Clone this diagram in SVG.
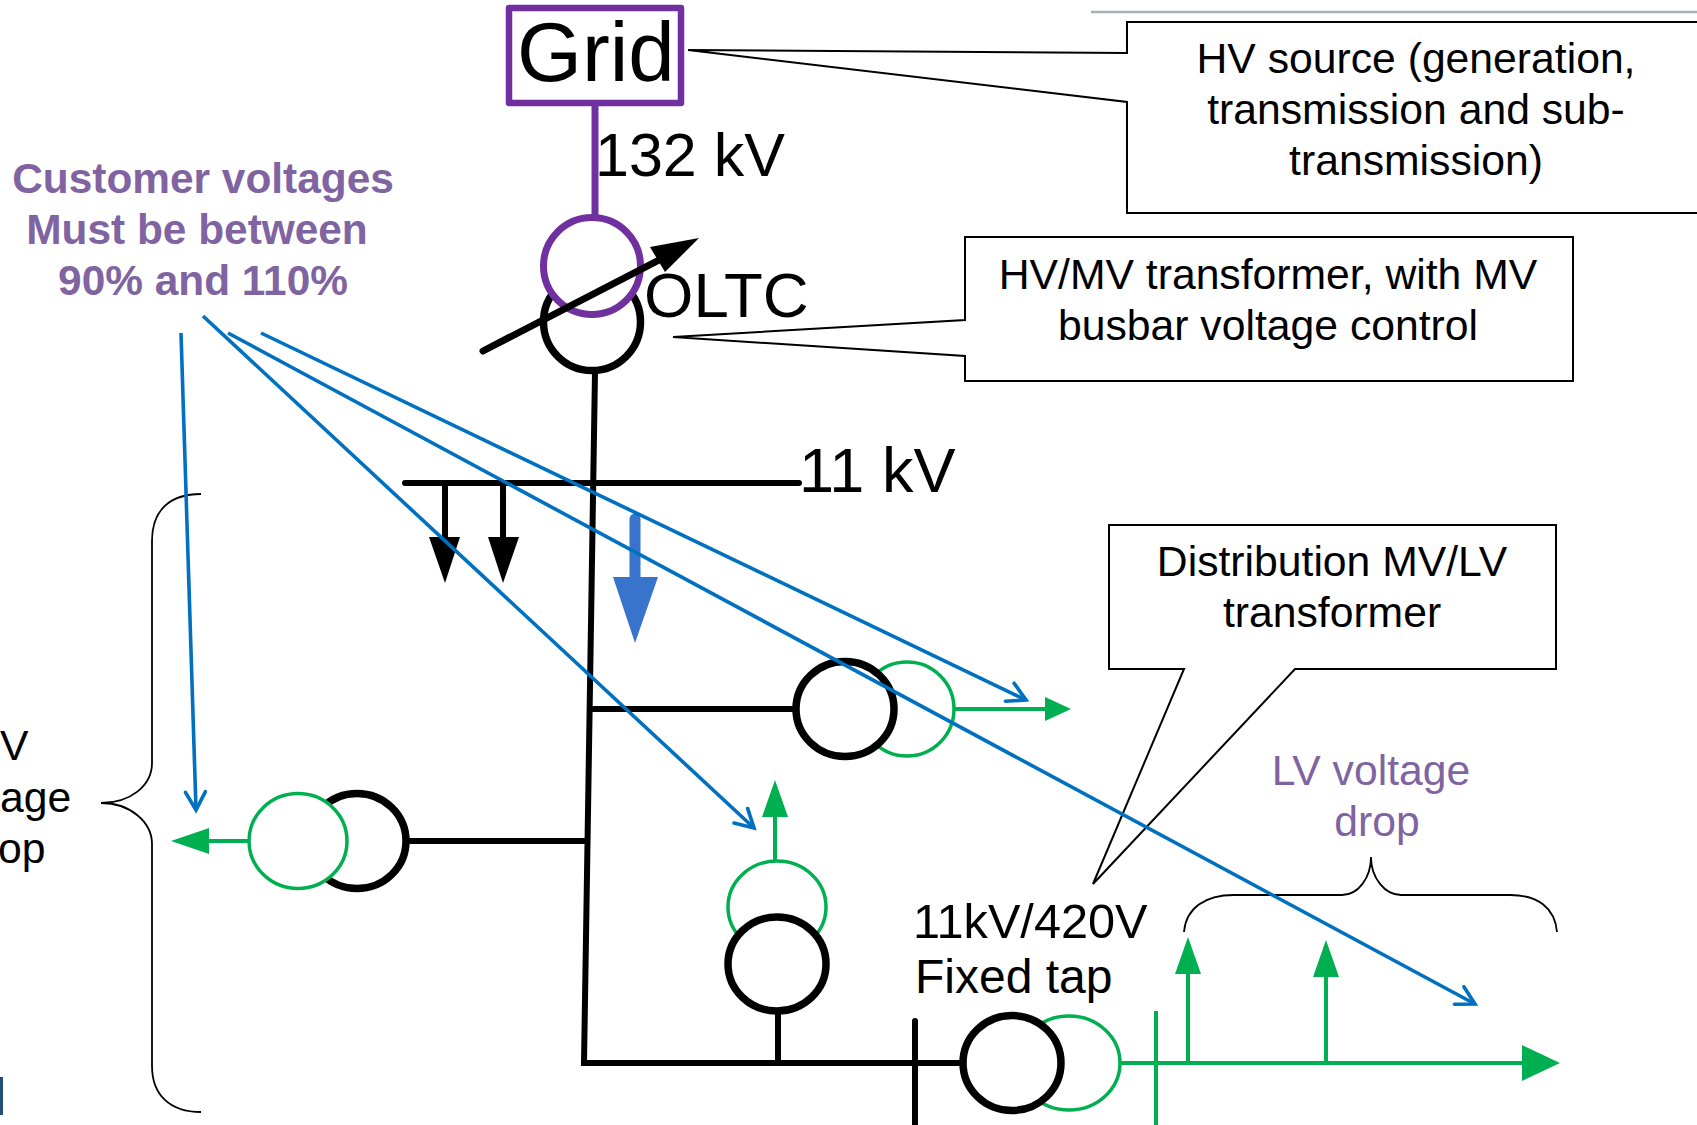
<svg xmlns="http://www.w3.org/2000/svg" width="1697" height="1125" viewBox="0 0 1697 1125">
<style>
text{font-family:"Liberation Sans",Arial,sans-serif;fill:#000}
.c{text-anchor:middle}
.t40{font-size:42.7px}
.p{fill:#8064A2}
.b{font-weight:700;font-size:42.4px}
.call{fill:#fff;stroke:#000;stroke-width:2}
.blk{fill:none;stroke:#000;stroke-width:6;stroke-linecap:round}
.grn{fill:none;stroke:#00B050;stroke-width:4}
.tb{fill:#fff;stroke:#000;stroke-width:7.5}
.tg{fill:#fff;stroke:#00B050;stroke-width:3.5}
.blue{fill:none;stroke:#0070C0;stroke-width:3.6;marker-end:url(#open)}
.brace{fill:none;stroke:#000;stroke-width:1.8}
.hg{fill:#00B050}
</style>
<defs>
<marker id="open" markerUnits="userSpaceOnUse" markerWidth="30" markerHeight="30" refX="22" refY="12" orient="auto"><path d="M4 2L22 12L4 22" fill="none" stroke="#0070C0" stroke-width="3.6" stroke-linecap="round"/></marker>
</defs>
<rect width="1697" height="1125" fill="#fff"/>
<path d="M1091 12H1697" stroke="#A6B0B8" stroke-width="2.5" fill="none"/>
<rect x="0" y="1077" width="3" height="38" fill="#1F4E79"/>

<g id="callout-source">
<path class="call" d="M1127 22L1699 22V213H1127V102L688 50L1127 53Z"/>
<text class="c t40" x="1416" y="73">HV source (generation,</text>
<text class="c t40" x="1416" y="124">transmission and sub-</text>
<text class="c t40" x="1416" y="175">transmission)</text>
</g>
<g id="callout-hvmv">
<path class="call" d="M965 237H1573V381H965V356L673 337L965 320Z"/>
<text class="c t40" x="1268" y="289">HV/MV transformer, with MV</text>
<text class="c t40" x="1268" y="340">busbar voltage control</text>
</g>
<g id="callout-dist">
<path class="call" d="M1109 525H1556V669H1295L1093 884L1184 669H1109Z"/>
<text class="c t40" x="1332" y="576">Distribution MV/LV</text>
<text class="c t40" x="1332" y="627">transformer</text>
</g>

<g id="connectors">
<path d="M595 103V215" fill="none" stroke="#7030A0" stroke-width="7"/>
<path class="blk" d="M595 372L584 1063H961"/>
<path class="blk" d="M405 483H799"/>
<path class="blk" d="M445 483V540M503 483V540"/>
<path d="M429 537H460L445 583ZM488 537H519L503 583Z"/>
<path d="M635 519V580" stroke="#3874CB" stroke-width="11" stroke-linecap="round" fill="none"/>
<path d="M613 577H658L635 643Z" fill="#3874CB"/>
<path class="blk" d="M590 709H795M408 841H586M778 1012V1063M915 1021V1125"/>
<path class="grn" d="M955 709H1045M249 841H205M775 860V815M1121 1063H1525M1156 1011V1125M1188 1063V972M1326 1063V975"/>
<path class="hg" d="M1071 709L1045 697V721ZM171 841L209 828V854ZM775 780L762 817H788ZM1560 1063L1522 1045V1081ZM1188 937L1175 974H1201ZM1326 940L1313 977H1339Z"/>
</g>

<g id="grid">
<rect x="509" y="8" width="172" height="95" fill="#fff" stroke="#7030A0" stroke-width="6.5" stroke-linejoin="round"/>
<text x="517" y="81" style="font-size:83.5px">Grid</text>
</g>
<g id="oltc-transformer">
<circle class="tb" cx="592" cy="322" r="48.500"/>
<circle cx="592" cy="266" r="48.5" fill="#fff" stroke="#7030A0" stroke-width="7"/>
<path d="M483 351L665 257" stroke="#000" stroke-width="7" stroke-linecap="round" fill="none"/>
<path d="M699 238L650 247L665 272Z"/>
</g>
<g id="transformer-right">
<ellipse class="tg" cx="907" cy="709" rx="47" ry="47"/>
<ellipse class="tb" cx="845" cy="709" rx="49" ry="47.5"/>
</g>
<g id="transformer-left">
<ellipse class="tb" cx="357" cy="841" rx="49" ry="47.5"/>
<ellipse class="tg" cx="298" cy="841" rx="49" ry="47.5"/>
</g>
<g id="transformer-bottom-mid">
<ellipse class="tg" cx="777" cy="907" rx="49" ry="46"/>
<ellipse class="tb" cx="777" cy="964" rx="49" ry="47"/>
</g>
<g id="transformer-fixed">
<ellipse class="tg" cx="1069" cy="1063" rx="51" ry="47"/>
<ellipse class="tb" cx="1012" cy="1063" rx="49" ry="47.5"/>
</g>

<g id="labels">
<text x="595" y="176" style="font-size:61px">132 kV</text>
<text x="644" y="317" style="font-size:63.5px">OLTC</text>
<text x="799" y="492" style="font-size:63px">11 kV</text>
<text x="913" y="938" style="font-size:48.7px">11kV/420V</text>
<text x="915" y="993" style="font-size:48px">Fixed tap</text>
<text class="c t40 p" x="1371" y="785">LV voltage</text>
<text class="c t40 p" x="1377" y="836">drop</text>
<text class="c p b" x="203" y="193">Customer voltages</text>
<text class="c p b" x="197" y="244">Must be between</text>
<text class="c p b" x="203" y="295">90% and 110%</text>
<text class="t40" x="0" y="760">V</text>
<text class="t40" x="0" y="812">age</text>
<text class="t40" x="-2" y="863">op</text>
</g>

<g id="braces">
<path class="brace" d="M201 494C170 494 152 510 152 541V763C152 786 130 803 101 803C130 803 152 822 152 844V1066C152 1095 170 1112 201 1112"/>
<path class="brace" d="M1184 932C1186 908 1205 895 1234 895H1342C1358 895 1371 878 1371 857C1371 878 1385 895 1401 895H1510C1538 895 1555 908 1557 932"/>
</g>

<g id="blue-arrows">
<path class="blue" d="M181 333L196 810"/>
<path class="blue" d="M203 316L754 828"/>
<path class="blue" d="M228 333L1475 1004"/>
<path class="blue" d="M261 333L1026 700"/>
</g>
</svg>
